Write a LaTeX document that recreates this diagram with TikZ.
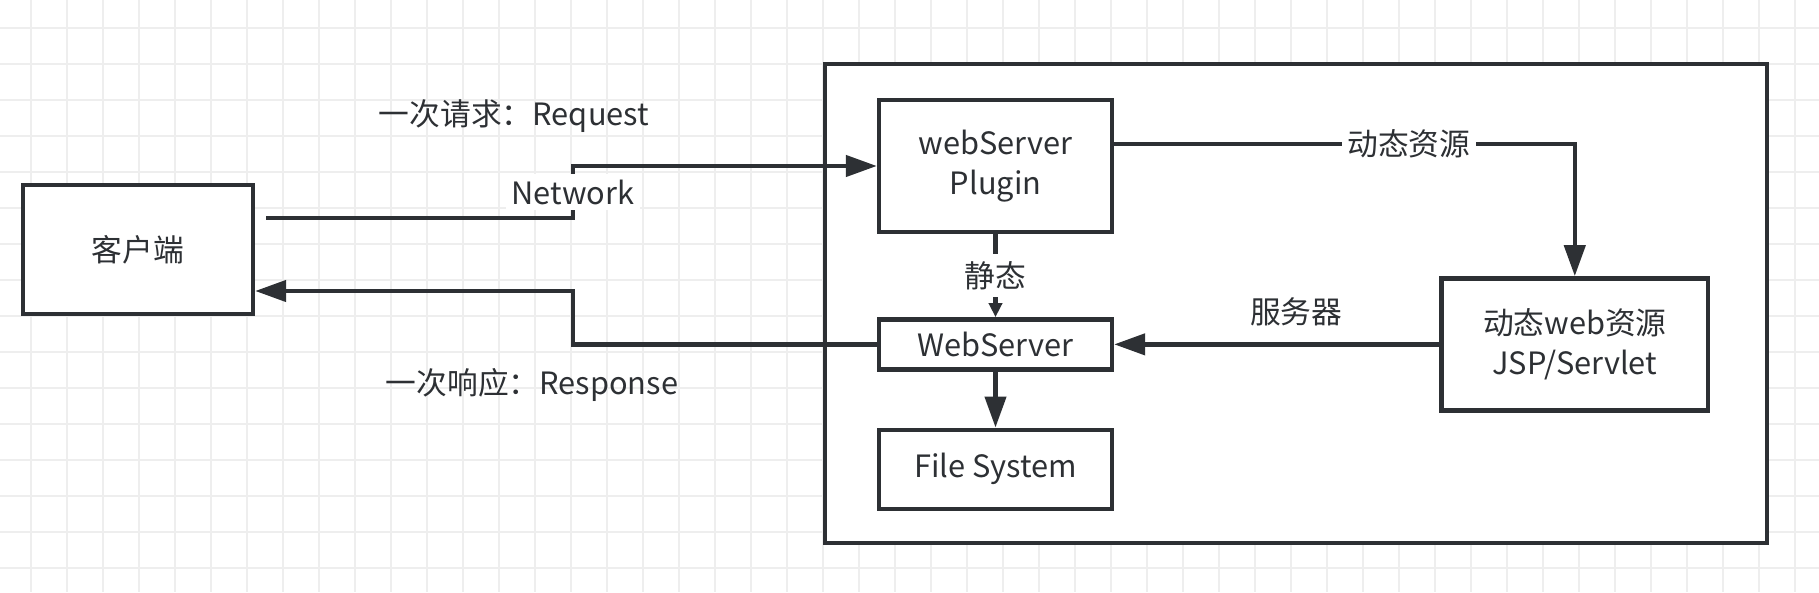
\documentclass[tikz,border=0pt]{standalone}
\usepackage{fontspec}
\setmainfont{Noto Sans CJK SC}
\usepackage{xcolor}
\usepackage{tikz}
\usetikzlibrary{arrows.meta,positioning,calc}
\definecolor{ink}{RGB}{45,48,52}
\definecolor{gridline}{RGB}{238,238,238}

\begin{document}
\begin{tikzpicture}[
    x=0.02cm, y=0.02cm,
    font=\fontsize{17.5}{22.7}\selectfont,
    box/.style={rectangle, draw=ink, fill=white, line width=2.5pt, inner sep=0pt, minimum width=4.66cm, align=center, text=ink},
    wire/.style={draw=ink, line width=2.5pt},
    arrowline/.style={wire, -{Triangle[length=0.62cm,width=0.42cm]}},
    edge label/.style={fill=white, inner sep=3pt, text=ink}
]
    % Background grid
    \useasboundingbox (0,0) rectangle (1819,592);
    \fill[white] (0,0) rectangle (1819,592);
    \foreach \gx in {31,67,...,1819} \draw[gridline, line width=1pt] (\gx,0) -- (\gx,592);
    \foreach \gy in {24,60,...,592} \draw[gridline, line width=1pt] (0,\gy) -- (1819,\gy);

    % Client
    \node[box, minimum width=4.6cm, minimum height=2.58cm] (client) at (138,342.5) {客户端};

    % Server side
    \node[box, minimum width=18.84cm, minimum height=9.58cm] (server) at (1296,288.5) {};
    \node[box, minimum height=2.64cm] (plugin) at (995.5,426) {webServer\\Plugin};
    \node[box, minimum height=1cm, below=1.66cm of plugin] (webserver) {WebServer};
    \node[box, minimum height=1.58cm, below=1.12cm of webserver] (files) {File System};
    \node[box, minimum width=5.34cm, minimum height=2.64cm, right=6.5cm of webserver] (dynamic) {动态web资源\\JSP/Servlet};

    % Labels
    \node[text=ink] (reqlabel) at (514,476) {一次请求：Request};
    \node[text=ink] (resplabel) at (532,207) {一次响应：Response};

    % Request
    \coordinate (reqstart) at ($(client.east)+(11,31.5)$);
    \coordinate (netbend) at (573,374);
    \draw[arrowline] (reqstart) -- (netbend) -- node[edge label] (netlabel) {Network} (netbend |- plugin.west) -- (plugin.west);

    % Response
    \coordinate (respbend) at (573,301);
    \draw[arrowline] (webserver.west) -| (respbend) -- (respbend -| client.east);

    % Inside
    \draw[arrowline] ($(plugin.east)+(0,22)$) -| node[edge label, pos=0.32] (dynlabel) {动态资源} (dynamic.north);
    \draw[wire, -{Triangle[length=0.28cm,width=0.26cm]}] (plugin.south) -- node[edge label, inner sep=4pt] (staticlabel) {静态} (webserver.north);
    \draw[arrowline] (dynamic.west) -- node[above=6pt, pos=0.44, text=ink] (srvlabel) {服务器} (webserver.east);
    \draw[arrowline] (webserver.south) -- (files.north);
\end{tikzpicture}
\end{document}
